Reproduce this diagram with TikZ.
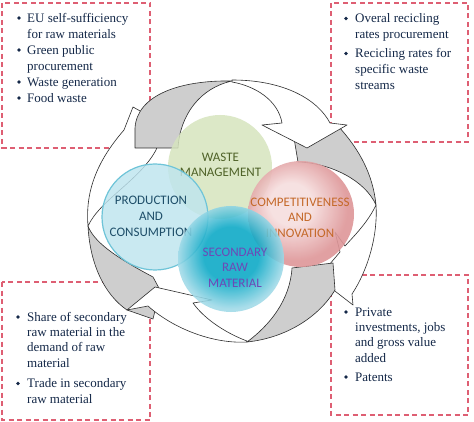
\documentclass[tikz,border=0pt]{standalone}
\usepackage{fontspec}
\setmainfont{Liberation Serif}
\newfontfamily\circfont{Carlito}
\definecolor{boxRed}{RGB}{222,95,115}
\definecolor{boxText}{RGB}{20,40,72}
\definecolor{arrGray}{RGB}{206,206,206}
\definecolor{arrLine}{RGB}{45,45,45}
\definecolor{greenC}{RGB}{214,228,190}
\definecolor{prodC}{RGB}{190,229,239}
\definecolor{prodLine}{RGB}{110,196,216}
\definecolor{pinkL}{RGB}{246,222,222}
\definecolor{pinkD}{RGB}{222,150,152}
\definecolor{tealD}{RGB}{8,168,198}
\definecolor{tealL}{RGB}{160,218,232}
\definecolor{wasteT}{RGB}{79,98,40}
\definecolor{prodT}{RGB}{30,78,105}
\definecolor{compT}{RGB}{196,104,40}
\definecolor{secT}{RGB}{110,72,182}
\pgfdeclareradialshading{pinkball}{\pgfpoint{-6bp}{6bp}}{color(0bp)=(pinkL); color(10bp)=(pinkL); color(25bp)=(pinkD); color(50bp)=(pinkD)}
\pgfdeclareradialshading{tealball}{\pgfpoint{0bp}{3bp}}{color(0bp)=(tealD); color(13bp)=(tealD); color(25bp)=(tealL); color(50bp)=(tealL)}
\tikzset{
  dashbox/.style={draw=boxRed, line width=1.5pt, dash pattern=on 5pt off 3.5pt},
  arrowwhite/.style={fill=white, draw=arrLine, line width=0.6pt, line join=round},
  arrowgray/.style={fill=arrGray, draw=arrLine, line width=0.6pt, line join=round},
  bul/.style={circle, fill=boxText, inner sep=0pt, minimum size=3.6pt},
  boxtxt/.style={anchor=north west, inner sep=0pt, align=left, text=boxText, font=\fontsize{13}{16}\selectfont},
  boxtxtb/.style={boxtxt, font=\fontsize{13}{15.3}\selectfont},
  circtxt/.style={anchor=north, inner sep=0pt, align=center, font=\circfont\fontsize{13}{15.8}\selectfont}
}
\newcommand{\st}{\rule{0pt}{10pt}}
\begin{document}
\begin{tikzpicture}[x=1pt,y=-1pt]
\useasboundingbox (0,0) rectangle (474,422);
\fill[white] (0,0) rectangle (474,422);
% dashed boxes
\draw[dashbox] (2,3) rectangle (150,148);
\draw[dashbox] (331,3) rectangle (468,142);
\draw[dashbox] (2,282) rectangle (150,420);
\draw[dashbox] (331,275) rectangle (468,415);
% arrows
\path[arrowwhite] (88,226) .. controls (85,190) and (98,160) .. (124,130) -- (133,107) -- (165,125) -- (156,150) .. controls (140,180) and (100,200) .. (88,226) -- cycle;
\path[arrowgray] (88,226) .. controls (90,265) and (105,295) .. (127,310) -- (153,319) -- (160,290) -- (153,277) .. controls (125,262) and (95,245) .. (88,226) -- cycle;
\path[arrowgray] (292,126) -- (338,126) .. controls (360,150) and (373,175) .. (376,205) .. controls (365,180) and (330,163) .. (298,162) -- cycle;
\path[arrowgray] (135,148) -- (178,148) .. controls (180,115) and (200,88) .. (232,81) .. controls (180,80) and (137,95) .. (135,128) -- cycle;
\path[arrowwhite] (232,80) .. controls (285,80) and (318,100) .. (330,123) -- (347,125) -- (307,148) -- (262,125) -- (282,123) .. controls (278,100) and (255,86) .. (232,82) -- cycle;
\path[arrowwhite] (376,205) .. controls (378,235) and (368,270) .. (352,294) -- (353,305) -- (318,278) -- (340,252) -- (335,232) -- (345,246) .. controls (355,235) and (368,222) .. (376,205) -- cycle;
\path[arrowgray] (292,268) -- (333,263) -- (335,290) .. controls (318,318) and (285,338) .. (247,342) .. controls (270,325) and (290,300) .. (292,268) -- cycle;
\path[arrowwhite] (247,342) .. controls (215,344) and (175,330) .. (148,306) -- (127,310) -- (155,287) -- (212,300) -- (193,303) .. controls (205,320) and (228,334) .. (247,341) -- cycle;
% circles
\fill[greenC, fill opacity=0.85] (220,167) circle (52);
\node[circtxt, text=wasteT] (waste) at (220.5,151) {\st WASTE\\MANAGEMENT};
\shade[shading=pinkball, fill opacity=0.9] (301,214) circle (53);
\node[circtxt, text=compT] (comp) at (300,196) {\st COMPETITIVENESS\\AND\\INNOVATION};
\filldraw[fill=prodC, draw=prodLine, line width=1.2pt, fill opacity=0.82] (155,217) circle (53);
\node[circtxt, text=prodT] (prod) at (151,194.5) {\st PRODUCTION\\AND\\CONSUMPTION};
\shade[shading=tealball, fill opacity=0.88] (231,259) circle (53);
\node[circtxt, text=secT, font=\circfont\fontsize{13}{15.5}\selectfont] (sec) at (235,246) {\st SECONDARY\\RAW\\MATERIAL};
% box 1
\node[bul] (b1a) at (19,18) {};
\node[boxtxt] (t1a) at (27,12) {\st EU self-sufficiency\\for raw materials};
\node[bul] (b1b) at (19,50) {};
\node[boxtxt] (t1b) at (27,44) {\st Green public\\procurement};
\node[bul] (b1c) at (19,82) {};
\node[boxtxt] (t1c) at (27,76) {\st Waste generation};
\node[bul] (b1d) at (19,98) {};
\node[boxtxt] (t1d) at (27,92) {\st Food waste};
% box 2
\node[bul] (b2a) at (346,18.5) {};
\node[boxtxt] (t2a) at (355,12.5) {\st Overal recicling\\rates procurement};
\node[bul] (b2b) at (346,53.5) {};
\node[boxtxt] (t2b) at (355,47.5) {\st Recicling rates for\\specific waste\\streams};
% box 3
\node[bul] (b3a) at (18,317) {};
\node[boxtxtb] (t3a) at (27,311) {\st Share of secondary\\raw material in the\\demand of raw\\material};
\node[bul] (b3b) at (18,383.5) {};
\node[boxtxtb] (t3b) at (27,377.5) {\st Trade in secondary\\raw material};
% box 4
\node[bul] (b4a) at (346,312) {};
\node[boxtxtb] (t4a) at (355,306) {\st Private\\investments, jobs\\and gross value\\added};
\node[bul] (b4b) at (346,377) {};
\node[boxtxtb] (t4b) at (355,371) {\st Patents};
\end{tikzpicture}
\end{document}
